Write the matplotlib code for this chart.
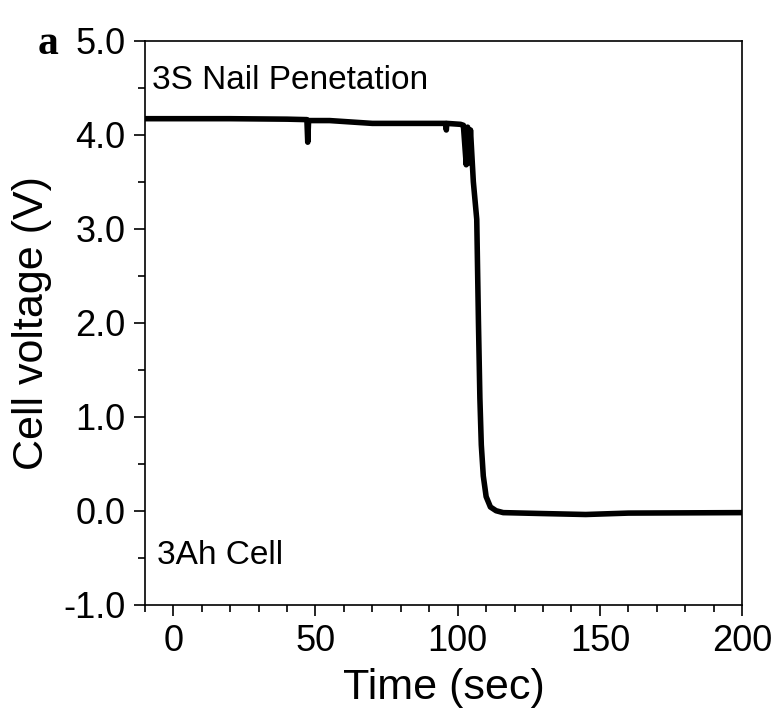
import matplotlib
matplotlib.use("Agg")
import matplotlib.pyplot as plt
from matplotlib.ticker import MultipleLocator

# nail penetration test, voltage trace
time = [-10, 0, 20, 40, 47.0, 47.3, 47.6, 55, 65, 70, 85, 95.8, 96.0, 96.2,
        101, 102, 103, 103.5, 104, 104.5, 105.5, 106.7, 107.3, 107.8, 108.3, 109,
        110, 111.5, 113.5, 116, 130, 145, 160, 200]
voltage = [4.17, 4.17, 4.17, 4.165, 4.16, 3.92, 4.15, 4.15, 4.13, 4.12,
           4.12, 4.12, 4.05, 4.12, 4.11, 4.10, 3.68, 4.08, 3.70, 4.05, 3.5, 3.1,
           2.0, 1.2, 0.7, 0.37, 0.15, 0.04, 0.0, -0.02, -0.03, -0.04, -0.025, -0.02]

plt.rcParams['font.family'] = ['Liberation Sans', 'DejaVu Sans']

fig = plt.figure(figsize=(7.78, 7.26), dpi=100)
ax = fig.add_axes([0.186, 0.167, 0.768, 0.777])

ax.plot(time, voltage, color='black', lw=4, solid_joinstyle='round')

ax.set_xlim(-10, 200)
ax.set_ylim(-1.0, 5.0)
ax.xaxis.set_major_locator(MultipleLocator(50))
ax.xaxis.set_minor_locator(MultipleLocator(10))
ax.yaxis.set_major_locator(MultipleLocator(1.0))
ax.yaxis.set_minor_locator(MultipleLocator(0.5))
ax.yaxis.set_major_formatter(matplotlib.ticker.FormatStrFormatter('%.1f'))

ax.tick_params(which='major', direction='out', length=8, width=1.2, labelsize=26, pad=6)
ax.tick_params(which='minor', direction='out', length=5, width=1.2)
for s in ax.spines.values():
    s.set_linewidth(1.2)

ax.set_xlabel('Time (sec)', fontsize=31, labelpad=6)
ax.set_ylabel('Cell voltage (V)', fontsize=31, labelpad=8)

ax.text(0.012, 0.93, '3S Nail Penetation', transform=ax.transAxes, fontsize=24, va='center')
ax.text(0.02, 0.088, '3Ah Cell', transform=ax.transAxes, fontsize=24, va='center')

fig.text(0.048, 0.94, 'a', fontsize=30, fontweight='bold', family='Liberation Serif', va='center')

fig.savefig('out.png', dpi=100)
